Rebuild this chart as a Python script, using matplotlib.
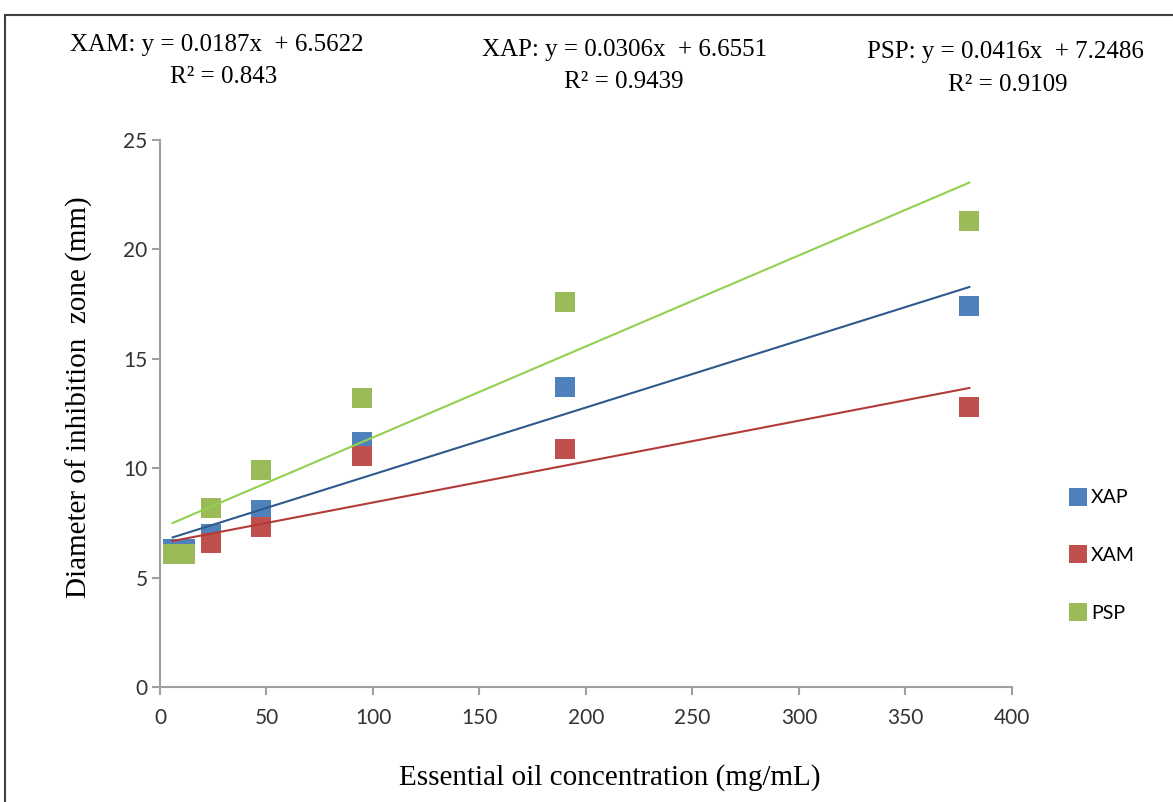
import matplotlib
matplotlib.use('Agg')
import matplotlib.pyplot as plt
from matplotlib.patches import Rectangle

# concentrations (mg/mL)
conc = [5.9375, 11.875, 23.75, 47.5, 95, 190, 380]

# inhibition zone diameters (mm)
xap = [6.3, 6.3, 7.0, 8.1, 11.2, 13.7, 17.4]
xam = [6.1, 6.1, 6.6, 7.3, 10.55, 10.9, 12.8]
psp = [6.1, 6.1, 8.2, 9.9, 13.2, 17.6, 21.3]

# linear trend coefficients (slope, intercept) and R^2
fit_xap = (0.0306, 6.6551, 0.9439)
fit_xam = (0.0187, 6.5622, 0.843)
fit_psp = (0.0416, 7.2486, 0.9109)

serif = 'Liberation Serif'
sans = 'Lato'

fig = plt.figure(figsize=(11.73, 8.02), dpi=100)
ax = fig.add_axes([0.1364, 0.1434, 0.7263, 0.682])

series = [
    ('XAP', xap, fit_xap, '#4F81BD', '#2E5A8C'),
    ('XAM', xam, fit_xam, '#C0504D', '#B23B38'),
    ('PSP', psp, fit_psp, '#9BBB59', '#92D050'),
]

for name, ys, fit, col, lcol in series:
    ax.plot(conc, ys, 's', color=col, markersize=14, markeredgewidth=0, label=name, zorder=3)

for name, ys, fit, col, lcol in series:
    x0, x1 = conc[0], conc[-1]
    ax.plot([x0, x1], [fit[0] * x0 + fit[1], fit[0] * x1 + fit[1]], color=lcol, lw=1.5, zorder=4)

ax.set_xlim(0, 400)
ax.set_ylim(0, 25)
ax.set_xticks(range(0, 401, 50))
ax.set_yticks(range(0, 26, 5))
for s in ['top', 'right']:
    ax.spines[s].set_visible(False)
for s in ['left', 'bottom']:
    ax.spines[s].set_color('#A0A0A0')
    ax.spines[s].set_linewidth(1.5)
ax.tick_params(colors='#A0A0A0', length=6, width=1.5, labelcolor='#333333', labelsize=15, pad=9)
ax.tick_params(axis='y', pad=3)
for lab in ax.get_xticklabels() + ax.get_yticklabels():
    lab.set_family(sans)

ax.set_xlabel('Essential oil concentration (mg/mL)', family=serif, fontsize=21, labelpad=26)
ax.set_ylabel('Diameter of inhibition  zone (mm)', family=serif, fontsize=21, labelpad=22)
ax.xaxis.label.set_x(0.528)
ax.yaxis.label.set_y(0.53)

leg = ax.legend(loc='center left', bbox_to_anchor=(1.045, 0.24), frameon=False,
                prop={'family': sans, 'size': 14}, labelspacing=2.1, handletextpad=0.2,
                markerscale=0.95, handlelength=1.0)

# equation annotations
fig.text(70 / 1173, 1 - 45 / 802, 'XAM: y = 0.0187x  + 6.5622', family=serif, fontsize=18, va='center')
fig.text(224 / 1173, 1 - 77 / 802, 'R² = %g' % fit_xam[2], family=serif, fontsize=18, va='center', ha='center')
fig.text(482 / 1173, 1 - 50 / 802, 'XAP: y = 0.0306x  + 6.6551', family=serif, fontsize=18, va='center')
fig.text(624 / 1173, 1 - 82 / 802, 'R² = %g' % fit_xap[2], family=serif, fontsize=18, va='center', ha='center')
fig.text(867 / 1173, 1 - 52 / 802, 'PSP: y = 0.0416x  + 7.2486', family=serif, fontsize=18, va='center')
fig.text(1008 / 1173, 1 - 85 / 802, 'R² = %g' % fit_psp[2], family=serif, fontsize=18, va='center', ha='center')

# outer frame
fig.patches.append(Rectangle((5 / 1173, -0.1), 1.2, 1.1 - 15 / 802, transform=fig.transFigure,
                             fill=False, edgecolor='#404040', linewidth=1.5))

fig.savefig('out.png', dpi=100)
